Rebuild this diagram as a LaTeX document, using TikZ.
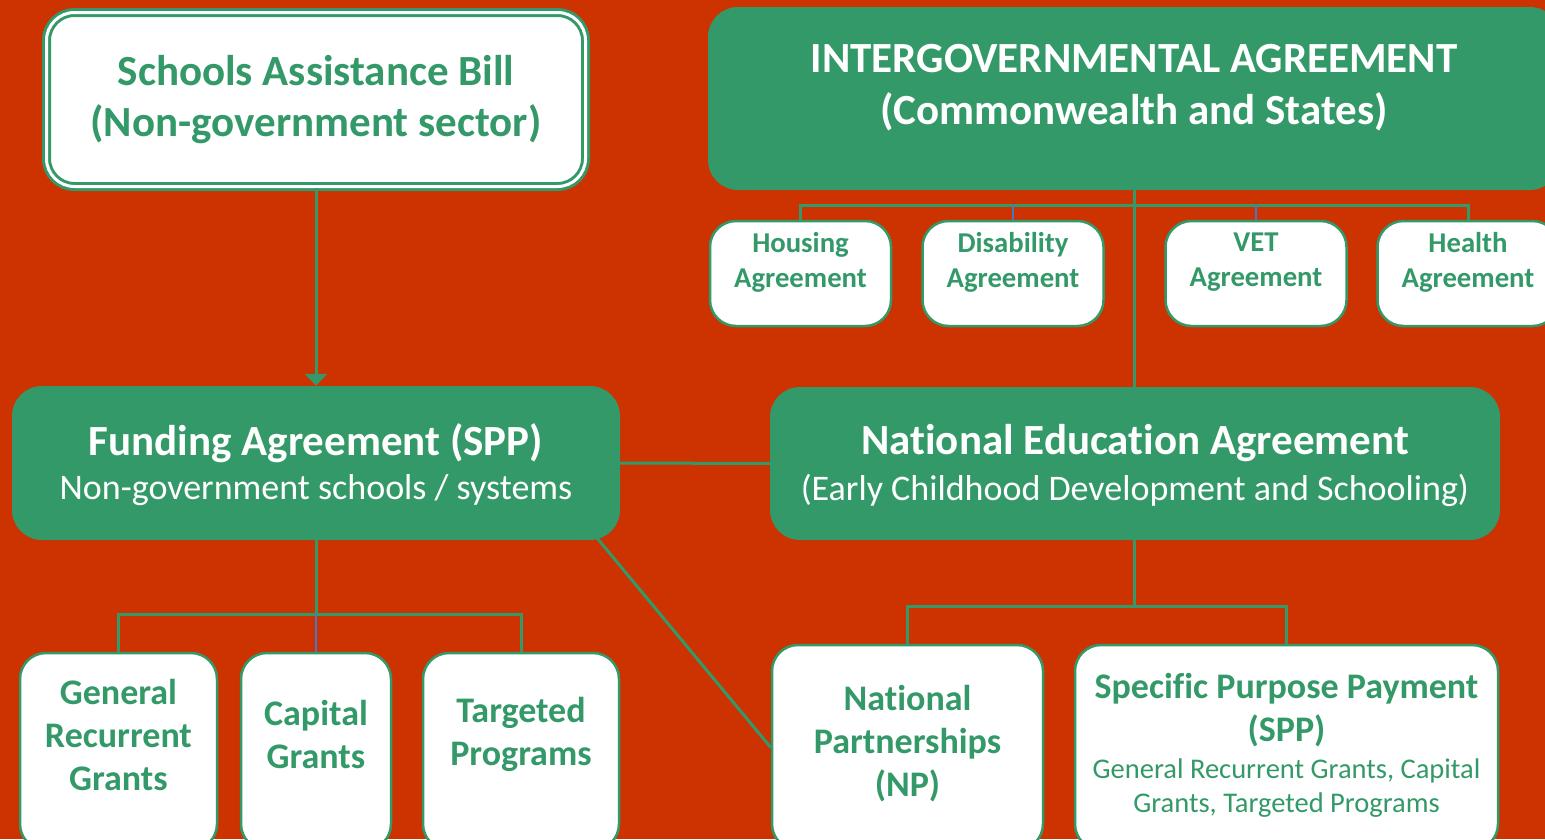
\documentclass[tikz,border=0pt]{standalone}
\usepackage{fontspec}
\setmainfont{Carlito}[Ligatures=NoCommon]
\usetikzlibrary{positioning,arrows.meta}

\definecolor{govred}{RGB}{204,51,0}
\definecolor{govgreen}{RGB}{52,153,104}
\definecolor{govblue}{RGB}{72,118,196}

\tikzset{
  panel/.style={fill=govgreen, rounded corners=30pt, inner sep=0pt},
  card/.style={fill=white, draw=govgreen, line width=2.5pt, rounded corners=26pt, inner sep=0pt},
  wire/.style={draw=govgreen, line width=3pt},
  bluewire/.style={draw=govblue, line width=1.8pt},
  headtext/.style={text=white, font={\fontsize{43}{52}\selectfont\bfseries}, align=center, inner sep=0pt},
  subtext/.style={text=white, font={\fontsize{36}{42}\selectfont}, align=center, inner sep=0pt},
  cardtext/.style={text=govgreen, font={\fontsize{36}{43}\selectfont\bfseries}, align=center, inner sep=0pt},
  minitext/.style={text=govgreen, font={\fontsize{28.7}{35}\selectfont\bfseries}, align=center, inner sep=0pt},
  notetext/.style={text=govgreen, font={\fontsize{28.5}{34}\selectfont}, align=center, inner sep=0pt},
}

\begin{document}
\begin{tikzpicture}[x=1pt,y=-1pt]
\path[use as bounding box, fill=govred] (0,0) rectangle (1545,839);

% top row
\node[card, double=white, double distance=3pt, line width=3pt, rounded corners=28pt,
      minimum width=539, minimum height=174] (SAB) at (316,99.5) {};
\node[cardtext, font={\fontsize{43}{51}\selectfont\bfseries}] (SAB-t) at (316,100)
  {Schools Assistance Bill\\(Non-government sector)};

\node[panel, minimum width=852, minimum height=183] (IGA) at (1134,98.5) {};
\node[headtext] (IGA-t) at (1134,88) {INTERGOVERNMENTAL AGREEMENT\\(Commonwealth and States)};

% agreements under the IGA
\node[card, minimum width=181, minimum height=105] (housing) at (800.5,273.5) {};
\node[card, minimum width=181, minimum height=105] (disability) at (1013,273.5) {};
\node[card, minimum width=181, minimum height=105] (vet) at (1256,273.5) {};
\node[card, minimum width=181, minimum height=105] (health) at (1468,273.5) {};
\node[minitext] (housing-t) at (800.5,262) {Housing\\Agreement};
\node[minitext] (disability-t) at (1013,262) {Disability\\Agreement};
\node[minitext] (vet-t) at (1256,262) {VET\\Agreement};
\node[minitext] (health-t) at (1468,262) {Health\\Agreement};

% middle row
\node[panel, minimum width=608, minimum height=154] (funding) at (316,463) {};
\node[headtext] (funding-t) at (316,443) {Funding Agreement (SPP)};
\node[subtext] (funding-s) at (316,490) {Non-government schools / systems};

\node[panel, minimum width=730, minimum height=153] (NEA) at (1135,463.5) {};
\node[headtext] (NEA-t) at (1135,443) {National Education Agreement};
\node[subtext] (NEA-s) at (1135,490) {(Early Childhood Development and Schooling)};

% bottom row
\node[card, minimum width=197, minimum height=197] (general) at (118.5,751.5) {};
\node[card, minimum width=150, minimum height=197] (capital) at (316,751.5) {};
\node[card, minimum width=196, minimum height=197] (targeted) at (521,751.5) {};
\node[cardtext] (general-t) at (118.5,735) {General\\Recurrent\\Grants};
\node[cardtext] (capital-t) at (316,734) {Capital\\Grants};
\node[cardtext] (targeted-t) at (521,734.5) {Targeted\\Programs};

\node[card, minimum width=271, minimum height=205] (NP) at (907.5,747.5) {};
\node[card, minimum width=423, minimum height=205] (SPP) at (1286.5,747.5) {};
\node[cardtext] (NP-t) at (907.5,744) {National\\Partnerships\\(NP)};
\node[cardtext] (SPP-t) at (1286.5,710) {Specific Purpose Payment\\(SPP)};
\node[notetext] (SPP-s) at (1286.5,788) {General Recurrent Grants, Capital\\Grants, Targeted Programs};

% connectors
\coordinate (IGA-hub) at (1134,205);
\coordinate (funding-hub) at (316,614);
\coordinate (NEA-hub) at (1134,606);

\draw[wire, -{Triangle[width=22pt,length=12pt]}] (SAB.south) -- (funding.north);
\draw[wire] (IGA.south -| IGA-hub) -- (NEA.north -| IGA-hub);
\draw[wire] (housing.north) |- (IGA-hub) -| (health.north);
\draw[bluewire] (disability.north) -- (disability.north |- IGA-hub);
\draw[bluewire] (vet.north) -- (vet.north |- IGA-hub);

\draw[wire] (funding.east) -- (NEA.west);
\draw[wire] ([xshift=-23pt,yshift=2pt]funding.south east) -- (NP.west);

\draw[wire] (funding.south) -- (funding-hub);
\draw[wire] (general.north) |- (funding-hub) -| (targeted.north);
\draw[bluewire] (funding-hub) -- (capital.north);

\draw[wire] (NEA.south -| NEA-hub) -- (NEA-hub);
\draw[wire] (NP.north) |- (NEA-hub) -| (SPP.north);
\end{tikzpicture}
\end{document}
